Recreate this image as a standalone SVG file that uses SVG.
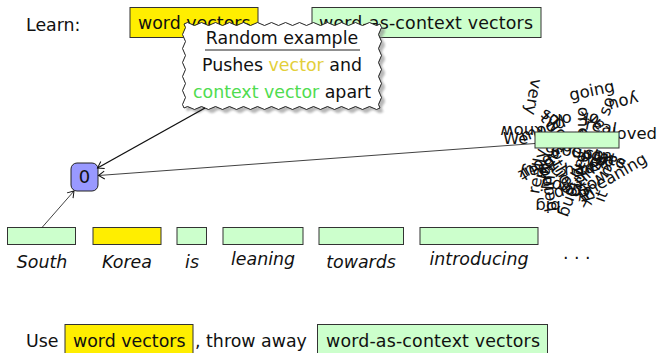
<svg xmlns="http://www.w3.org/2000/svg" width="662" height="353" viewBox="0 0 662 353">
<style>
text{font-family:"DejaVu Sans","Liberation Sans",sans-serif;font-size:17.4px;fill:#111}
.it{font-style:italic;text-anchor:middle}
.ctr{text-anchor:middle}
.y{fill:#ffee00;stroke:#333;stroke-width:1}
.g{fill:#ccffcc;stroke:#333;stroke-width:1}
.cl text{font-size:16.5px;text-anchor:middle}
.edge{fill:none;stroke:#111}
</style>
<defs>
<marker id="ah" markerWidth="12" markerHeight="12" refX="0" refY="0" viewBox="-8 -6 10 12" orient="auto" markerUnits="userSpaceOnUse">
<path d="M-6,-4 Q-1.5,-1 0,0 Q-1.5,1 -6,4" fill="none" stroke="#111" stroke-width="1"/>
</marker>
<path id="wave" d="M184,24 q3.5,-3 7,0 t7,0 t7,0 t7,0 t7,0 t7,0 t7,0 t7,0 t7,0 t7,0 t7,0 t7,0 t7,0 t7,0 t7,0 t7,0 t7,0 t7,0 t7,0 t7,0 t7,0 t7,0 t7,0 t7,0 t7,0 t7,0 t7,0 t7,0 q3,3.5 0,7 t0,7 t0,7 t0,7 t0,7 t0,7 t0,7 t0,7 t0,7 t0,7 t0,7 t0,7 q-3.5,3 -7,0 t-7,0 t-7,0 t-7,0 t-7,0 t-7,0 t-7,0 t-7,0 t-7,0 t-7,0 t-7,0 t-7,0 t-7,0 t-7,0 t-7,0 t-7,0 t-7,0 t-7,0 t-7,0 t-7,0 t-7,0 t-7,0 t-7,0 t-7,0 t-7,0 t-7,0 t-7,0 t-7,0 q-3,-3.5 0,-7 t0,-7 t0,-7 t0,-7 t0,-7 t0,-7 t0,-7 t0,-7 t0,-7 t0,-7 t0,-7 t0,-7 z"/>
<filter id="blur" x="-10%" y="-15%" width="120%" height="130%"><feGaussianBlur stdDeviation="1.3"/></filter>
</defs>

<g id="learn-row">
<text x="26" y="31">Learn:</text>
<rect class="y" x="130" y="7.5" width="128" height="30"/>
<text x="138" y="29">word vectors</text>
<rect class="g" x="312" y="7.5" width="229" height="30"/>
<text x="319" y="29" textLength="214">word-as-context vectors</text>
</g>

<g id="cloud" class="cl">
<text transform="translate(528,96) rotate(100)">very</text>
<text transform="translate(593,96) rotate(-12)">going</text>
<text transform="translate(622,97) rotate(165)">you</text>
<text transform="translate(612,108) rotate(-70)">so</text>
<text transform="translate(562,114) rotate(180)">ok</text>
<text transform="translate(590,113) rotate(190)">ok</text>
<text transform="translate(522,126) rotate(180)">know</text>
<text transform="translate(548,121) rotate(30)">so</text>
<text transform="translate(550,130) rotate(45)">two</text>
<text transform="translate(578,122) rotate(90)">one</text>
<text transform="translate(603,122) rotate(-135)">car</text>
<text transform="translate(575,132) rotate(160)">old</text>
<text transform="translate(545,134) rotate(-20)">mood</text>
<text transform="translate(600,132) rotate(10)">real</text>
<text x="503" y="144" style="text-anchor:start">We</text>
<text x="612" y="139" style="text-anchor:start">loved</text>
<text transform="translate(611,155) rotate(200)">sale</text>
<text transform="translate(617,180) rotate(-30)">meaning</text>
<text transform="translate(548,201) rotate(180)">big</text>
<text transform="translate(558,176) rotate(60)">the</text>
<text transform="translate(543,172) rotate(-80)">really</text>
<text transform="translate(574,166) rotate(120)">all</text>
<text transform="translate(585,162) rotate(30)">people</text>
<text transform="translate(594,174) rotate(-45)">time</text>
<text transform="translate(563,182) rotate(200)">good</text>
<text transform="translate(578,188) rotate(75)">think</text>
<text transform="translate(556,160) rotate(-60)">would</text>
<text transform="translate(538,160) rotate(150)">about</text>
<text transform="translate(604,163) rotate(15)">state</text>
<text transform="translate(598,170) rotate(-20)">help</text>
<text transform="translate(568,156) rotate(10)">group</text>
<text transform="translate(553,188) rotate(-100)">being</text>
<text transform="translate(588,182) rotate(140)">work</text>
<text transform="translate(570,194) rotate(-15)">day</text>
<text transform="translate(532,166) rotate(170)">say</text>
<text transform="translate(562,170) rotate(230)">form</text>
<text transform="translate(594,152) rotate(180)">able</text>
<text transform="translate(606,198) rotate(-70)">it</text>
<text transform="translate(580,174) rotate(-5)">had</text>
<text transform="translate(565,198) rotate(110)">long</text>
<text transform="translate(590,199) rotate(-40)">in</text>
<text transform="translate(545,185) rotate(95)">up</text>
</g>

<g id="callout">
<use href="#wave" transform="translate(3.5,3.5)" fill="#888" opacity="0.6" filter="url(#blur)"/>
<use href="#wave" fill="#fff" stroke="#222" stroke-width="1"/>
<text class="ctr" x="282" y="44">Random example</text>
<line x1="205" y1="50" x2="360" y2="50" stroke="#222" stroke-width="1"/>
<text class="ctr" x="282" y="71">Pushes <tspan fill="#e3cf3a">vector</tspan> and</text>
<text class="ctr" x="282" y="98"><tspan fill="#4fdc4f">context vector</tspan> apart</text>
</g>

<g id="node0">
<rect x="71" y="163" width="27" height="28" rx="6" fill="#9999ff" stroke="#222" stroke-width="1"/>
<text class="ctr" x="84.5" y="183" style="font-size:18px">0</text>
</g>

<g id="cloud-box">
<rect class="g" x="535" y="132" width="84" height="16"/>
</g>

<g id="tokens">
<g id="t-south"><rect class="g" x="7.5" y="227.5" width="68" height="17"/><text class="it" x="42" y="268">South</text></g>
<g id="t-korea"><rect class="y" x="93" y="227.5" width="68" height="17"/><text class="it" x="127" y="268">Korea</text></g>
<g id="t-is"><rect class="g" x="177" y="227.5" width="29.5" height="17"/><text class="it" x="192" y="268">is</text></g>
<g id="t-leaning"><rect class="g" x="223" y="227.5" width="80" height="17"/><text class="it" x="263" y="265">leaning</text></g>
<g id="t-towards"><rect class="g" x="319" y="227.5" width="84.5" height="17"/><text class="it" x="361" y="268">towards</text></g>
<g id="t-introducing"><rect class="g" x="420" y="227.5" width="118" height="17"/><text class="it" x="479" y="265">introducing</text></g>
<text x="563" y="264">· · ·</text>
</g>

<g id="connectors">
<line class="edge" x1="42" y1="227.5" x2="74" y2="191" stroke-width="0.8" marker-end="url(#ah)"/>
<line class="edge" x1="535" y1="143.5" x2="98.5" y2="175.5" stroke-width="0.8" marker-end="url(#ah)"/>
<line class="edge" x1="205" y1="108" x2="97.5" y2="168" stroke-width="1.4" marker-end="url(#ah)"/>
</g>

<g id="use-row">
<text x="26" y="347">Use</text>
<rect class="y" x="65" y="324.5" width="128" height="30"/>
<text x="73" y="347">word vectors</text>
<text x="195" y="347">, throw away</text>
<rect class="g" x="317.5" y="324.5" width="230" height="30"/>
<text x="326" y="347" textLength="214">word-as-context vectors</text>
</g>
</svg>
